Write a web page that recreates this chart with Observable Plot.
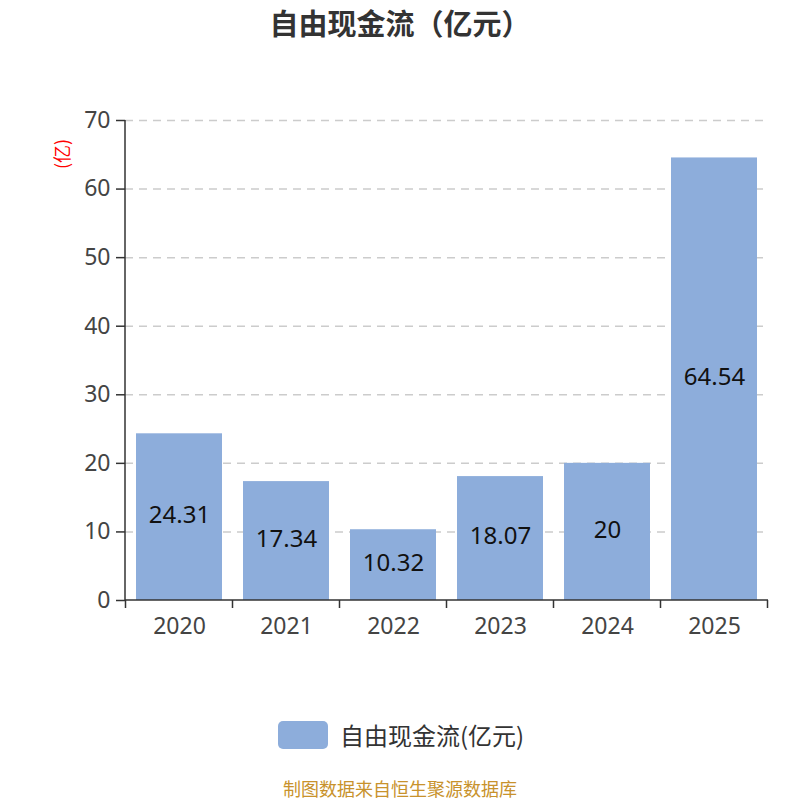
<!DOCTYPE html>
<html>
<head>
<meta charset="utf-8">
<script src="https://cdn.jsdelivr.net/npm/d3@7"></script>
<script src="https://cdn.jsdelivr.net/npm/@observablehq/plot@0.6"></script>
<style>
  body { margin: 0; background: #fff; font-family: "Noto Sans", "Noto Sans CJK SC", sans-serif; }
  #wrap { position: relative; width: 800px; height: 800px; overflow: hidden; }
  #title { position: absolute; top: 2px; left: 0; width: 800px; text-align: center; font-size: 29px; line-height: 40px; font-weight: bold; color: #333; font-family: "Noto Sans CJK SC", sans-serif; }
  #chart { position: absolute; top: 0; left: 0; }
  #ylab { position: absolute; left: 46px; top: 143px; color: #ff0000; font-size: 18px; line-height: 22px; transform: rotate(-90deg); transform-origin: center; font-family: "Noto Sans CJK SC", sans-serif; }
  #legend { position: absolute; top: 720px; left: 278px; display: flex; align-items: center; font-size: 24px; line-height: 30px; color: #333; font-family: "Noto Sans CJK SC", sans-serif; }
  #legend .sw { width: 50px; height: 28px; border-radius: 5px; background: #8DADDB; margin-right: 12px; }
  #footer { position: absolute; top: 778px; left: 0; width: 800px; text-align: center; font-size: 18px; line-height: 20px; color: #C8922C; font-family: "Noto Sans CJK SC", sans-serif; }
</style>
</head>
<body>
<div id="wrap">
  <div id="title">自由现金流（亿元）</div>
  <div id="chart"></div>
  <div id="ylab">(亿)</div>
  <div id="legend"><div class="sw"></div><span>自由现金流(亿元)</span></div>
  <div id="footer">制图数据来自恒生聚源数据库</div>
</div>
<script>
const years = ["2020", "2021", "2022", "2023", "2024", "2025"];
const values = [24.31, 17.34, 10.32, 18.07, 20, 64.54];
const yTicks = [0, 10, 20, 30, 40, 50, 60, 70];
const seriesName = "自由现金流(亿元)";

const data = years.map((y, i) => ({year: y, value: values[i]}));
const barColor = "#8DADDB";
const axisColor = "#333";

// function mark: axis lines and category-boundary ticks (echarts style)
function axisLines(index, scales, values, dims) {
  const g = d3.create("svg:g");
  const x = scales.x, y = scales.y;
  const step = x(years[1]) - x(years[0]);
  const bw = x.bandwidth();
  const left = dims.marginLeft, right = dims.width - dims.marginRight;
  const y0 = y(0);
  g.append("line").attr("x1", left).attr("x2", left).attr("y1", y(70)).attr("y2", y0)
    .attr("stroke", axisColor).attr("stroke-width", 1.5);
  g.append("line").attr("x1", left).attr("x2", right).attr("y1", y0).attr("y2", y0)
    .attr("stroke", axisColor).attr("stroke-width", 1.5);
  const bounds = years.map(d => x(d) + bw / 2 - step / 2);
  bounds.push(x(years[years.length - 1]) + bw / 2 + step / 2);
  for (const b of bounds) {
    g.append("line").attr("x1", b).attr("x2", b).attr("y1", y0).attr("y2", y0 + 8)
      .attr("stroke", axisColor).attr("stroke-width", 1.5);
  }
  return g.node();
}

const chart = Plot.plot({
  width: 800,
  height: 700,
  marginLeft: 125,
  marginRight: 32,
  marginTop: 120,
  marginBottom: 100,
  style: {fontFamily: '"Noto Sans", "Noto Sans CJK SC", sans-serif', background: "transparent"},
  x: {domain: years, paddingInner: 0.2, paddingOuter: 0.1, axis: null},
  y: {domain: [0, 70], axis: null},
  marks: [
    Plot.ruleY(yTicks.filter(t => t > 0), {y: d => d, stroke: "#ccc", strokeWidth: 1.5, strokeDasharray: "8,6"}),
    Plot.barY(data, {x: "year", y: "value", fill: barColor}),
    Plot.text(data, {x: "year", y: d => d.value / 2, text: d => String(d.value), fontSize: 24, fill: "#111", dy: -2}),
    axisLines,
    Plot.axisY({ticks: yTicks, tickSize: 9, tickPadding: 6, fontSize: 23, color: "#444", stroke: axisColor, strokeWidth: 1.5, label: null}),
    Plot.axisX({tickSize: 0, tickPadding: 17, fontSize: 23, color: "#444", label: null})
  ]
});
document.getElementById("chart").appendChild(chart);
</script>
</body>
</html>
